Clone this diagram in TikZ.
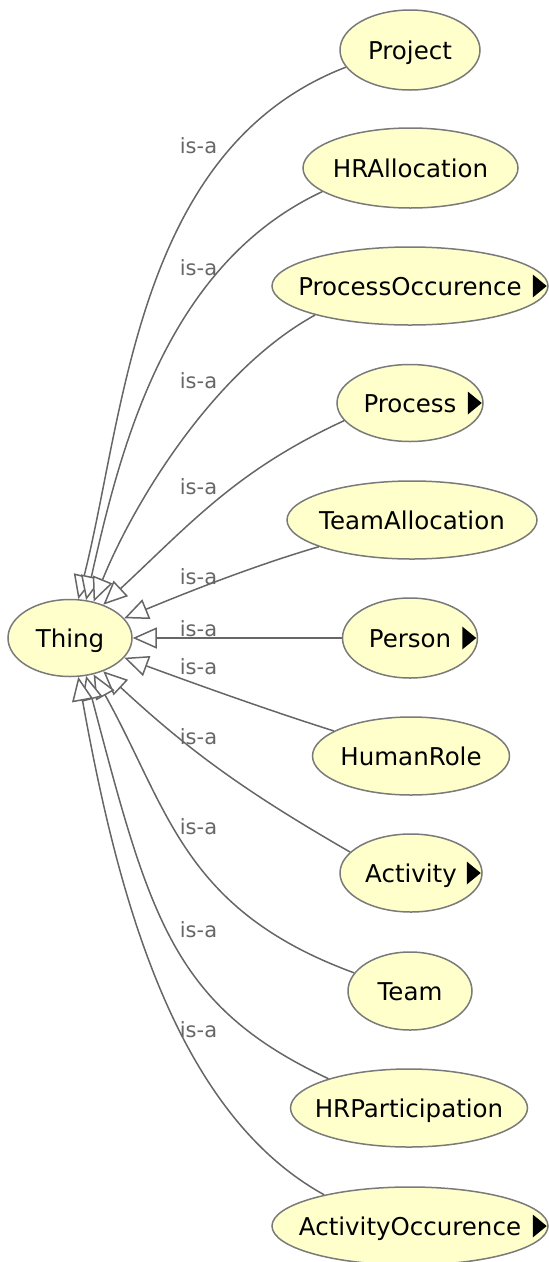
\documentclass[tikz,border=0pt]{standalone}
\usepackage{fontspec}
\setmainfont{DejaVu Sans}
\usetikzlibrary{arrows.meta,shapes.geometric}
\definecolor{nodefill}{HTML}{FFFFCC}
\definecolor{bordergray}{HTML}{7A7A7A}
\definecolor{edgegray}{HTML}{666666}
\definecolor{lblgray}{HTML}{666666}
\newcommand\ndfont{\fontsize{24.5}{28}\selectfont}
\newcommand\lbfont{\fontsize{21}{24}\selectfont}
\newcommand\subtri[1]{\fill[black] (#1.east) ++(-2,0) -- ++(-14,-11.5) -- ++(0,23) -- cycle;}
\tikzset{
  cls/.style={ellipse, draw=bordergray, line width=1.5pt, fill=nodefill,
    inner sep=0pt, minimum height=78pt, text height=18pt, text depth=0pt,
    font=\ndfont, text=black},
  isa/.style={draw=edgegray, line width=1.5pt,
    -{Triangle[length=24pt,width=21pt,fill=white]}},
  lbl/.style={inner sep=0pt, font=\lbfont, text=lblgray}
}
\begin{document}
\begin{tikzpicture}[x=1pt,y=-1pt]
\useasboundingbox (0,0) rectangle (549,1262);
% nodes
\node[cls, minimum width=124pt, minimum height=77pt] (thing) at (70,638) {\makebox[0pt]{Thing}};
\node[cls, minimum width=140pt, minimum height=80pt] (project) at (410,50) {\makebox[0pt]{Project}};
\node[cls, minimum width=215pt, minimum height=80pt] (hralloc) at (410.5,168) {\makebox[0pt]{HRAllocation}};
\node[cls, minimum width=276pt] (prococc) at (410,286) {\makebox[0pt]{ProcessOccurence}};
\node[cls, minimum width=146pt, minimum height=77pt] (process) at (410,403) {\makebox[0pt]{Process}};
\node[cls, minimum width=250pt] (teamalloc) at (412,520) {\makebox[0pt]{TeamAllocation}};
\node[cls, minimum width=135pt, minimum height=80pt] (person) at (410,638) {\makebox[0pt]{Person}};
\node[cls, minimum width=197pt] (humanrole) at (411,756) {\makebox[0pt]{HumanRole}};
\node[cls, minimum width=142pt] (activity) at (411,873) {\makebox[0pt]{Activity}};
\node[cls, minimum width=124pt] (team) at (410,991) {\makebox[0pt]{Team}};
\node[cls, minimum width=237pt] (hrpart) at (409,1108) {\makebox[0pt]{HRParticipation}};
\node[cls, minimum width=276pt] (actocc) at (410,1226) {\makebox[0pt]{ActivityOccurence}};
% subclass markers
\subtri{prococc}
\subtri{process}
\subtri{person}
\subtri{activity}
\subtri{actocc}
% edges
\draw[isa] (project.195) .. controls (136,148) and (125,414) .. (thing.78);
\draw[isa] (hralloc.195) .. controls (165,265) and (120,450) .. (thing.67);
\draw[isa] (prococc.197) .. controls (215,370) and (135,500) .. (thing.57);
\draw[isa] (process.195) .. controls (237,470) and (191,523) .. (thing.45);
\draw[isa] (teamalloc.196) .. controls (253,566) and (188,592) .. (thing.20);
\draw[isa] (person.west) -- (thing.east);
\draw[isa] (humanrole.162) .. controls (266,709.5) and (189,681.6) .. (thing.-20);
\draw[isa] (activity.161) .. controls (246,792) and (190,751.7) .. (thing.-45);
\draw[isa] (team.162) .. controls (183,910) and (169,810) .. (thing.-57);
\draw[isa] (hrpart.160) .. controls (173,1006) and (150,918.5) .. (thing.-67);
\draw[isa] (actocc.160) .. controls (170,1110) and (115,880) .. (thing.-78);
% labels
\node[lbl] (l1) at (198.5,146) {is-a};
\node[lbl] (l2) at (198.5,268) {is-a};
\node[lbl] (l3) at (198.5,381) {is-a};
\node[lbl] (l4) at (198.5,487) {is-a};
\node[lbl] (l5) at (198.5,577) {is-a};
\node[lbl] (l6) at (198.5,629) {is-a};
\node[lbl] (l7) at (198.5,667) {is-a};
\node[lbl] (l8) at (198.5,737) {is-a};
\node[lbl] (l9) at (198.5,827) {is-a};
\node[lbl] (l10) at (198.5,930) {is-a};
\node[lbl] (l11) at (198.5,1030) {is-a};
\end{tikzpicture}
\end{document}
